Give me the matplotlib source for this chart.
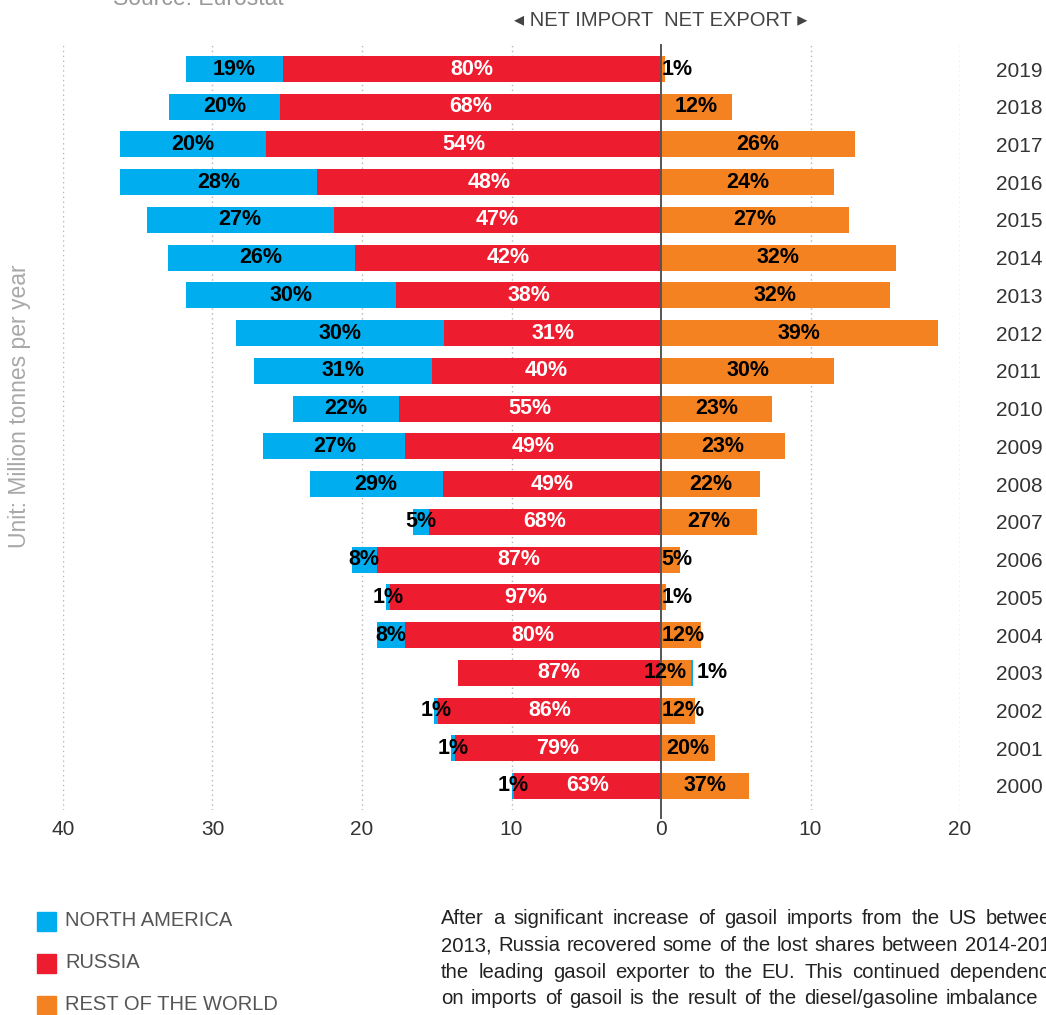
import numpy as np
import matplotlib
matplotlib.use("Agg")
import matplotlib.pyplot as plt
from matplotlib.patches import Rectangle

plt.rcParams['font.family'] = ['Liberation Sans', 'DejaVu Sans']

# Net trade in gasoil, million tonnes per year (negative = net import)
years = list(range(2000, 2020))
russia = [-9.83, -13.8, -14.9, -13.6, -17.1, -18.1, -19.0, -15.5, -14.6, -17.1,
          -17.5, -15.3, -14.5, -17.7, -20.5, -21.9, -23.0, -26.4, -25.5, -25.3]
north_america = [-0.17, -0.25, -0.3, 0.15, -1.9, -0.3, -1.7, -1.1, -8.9, -9.5,
                 -7.1, -11.9, -13.9, -14.1, -12.5, -12.5, -13.2, -9.8, -7.4, -6.5]
rest_world = [5.9, 3.6, 2.27, 2.0, 2.7, 0.33, 1.27, 6.4, 6.6, 8.3,
              7.4, 11.6, 18.5, 15.3, 15.7, 12.6, 11.6, 13.0, 4.75, 0.3]

na_pct = ['1%', '1%', '1%', '1%', '8%', '1%', '8%', '5%', '29%', '27%',
          '22%', '31%', '30%', '30%', '26%', '27%', '28%', '20%', '20%', '19%']
ru_pct = ['63%', '79%', '86%', '87%', '80%', '97%', '87%', '68%', '49%', '49%',
          '55%', '40%', '31%', '38%', '42%', '47%', '48%', '54%', '68%', '80%']
row_pct = ['37%', '20%', '12%', '12%', '12%', '1%', '5%', '27%', '22%', '23%',
           '23%', '30%', '39%', '32%', '32%', '27%', '24%', '26%', '12%', '1%']

series_names = ['NORTH AMERICA', 'RUSSIA', 'REST OF THE WORLD']
colors = ['#00AEEF', '#EE1C2F', '#F58220']

para_lines = [
    "After a significant increase of gasoil imports from the US between",
    "2013, Russia recovered some of the lost shares between 2014-2019",
    "the leading gasoil exporter to the EU. This continued dependence",
    "on imports of gasoil is the result of the diesel/gasoline imbalance",
]
para_right = [1062, 1062, 1060, 1038]

W, H = 1046, 1015
fig = plt.figure(figsize=(W / 100, H / 100), dpi=100)
ax = fig.add_axes([63 / W, 1 - 810 / H, 897 / W, 765 / H])

y = np.arange(len(years))
ru = np.array(russia)
na = np.array(north_america)
rw = np.array(rest_world)
bh = 0.69

ax.barh(y, ru, left=0, height=bh, color=colors[1], zorder=2)
na_left = np.where(na < 0, ru, rw)
ax.barh(y, na, left=na_left, height=bh, color=colors[0], zorder=2)
ax.barh(y, rw, left=0, height=bh, color=colors[2], zorder=2)

lab = dict(fontsize=15.5, fontweight='bold', va='center', zorder=4)
for i in range(len(years)):
    # Russia
    ax.text(ru[i] / 2, y[i], ru_pct[i], ha='center', color='white', **lab)
    # North America
    if na[i] < 0:
        ax.text(ru[i] + na[i] / 2, y[i], na_pct[i], ha='center', color='black', **lab)
    else:
        ax.text(rw[i] + na[i] + 0.25, y[i], na_pct[i], ha='left', color='black', **lab)
    # Rest of the world
    if rw[i] >= 3.0:
        ax.text(rw[i] / 2, y[i], row_pct[i], ha='center', color='black', **lab)
    elif na[i] > 0:
        ax.text(rw[i] - 0.25, y[i], row_pct[i], ha='right', color='black', **lab)
    else:
        ax.text(0.05, y[i], row_pct[i], ha='left', color='black', **lab)

for gx in [-40, -30, -20, -10, 10, 20]:
    ax.axvline(gx, color='#b5b5b5', lw=1, ls=(0, (1, 2.5)), zorder=1)
ax.axvline(0, color='#555555', lw=1.4, zorder=3, ymin=-0.01, clip_on=False)

ax.set_xlim(-40, 20)
ax.set_ylim(-0.636, len(years) - 1 + 0.636)
ax.set_xticks([-40, -30, -20, -10, 0, 10, 20])
ax.set_xticklabels([str(abs(v)) for v in [-40, -30, -20, -10, 0, 10, 20]])
ax.set_yticks(y)
ax.set_yticklabels([str(v) for v in years])
ax.yaxis.tick_right()
ax.tick_params(axis='x', length=0, pad=7, labelsize=15, labelcolor='#333333')
ax.tick_params(axis='y', length=0, pad=26, labelsize=15, labelcolor='#333333')
for s in ax.spines.values():
    s.set_visible(False)

fig.text(661 / W, 1 - 20 / H, '\u25C2 NET IMPORT  NET EXPORT \u25B8', ha='center',
         va='center', fontsize=14.5, color='#444444',
         family=['Liberation Sans', 'DejaVu Sans'])
fig.text(113 / W, 1 - 5 / H, 'Source: Eurostat', ha='left', va='baseline',
         fontsize=16.5, color='#999999')
fig.text(20 / W, 1 - 406 / H, 'Unit: Million tonnes per year', rotation=90,
         ha='center', va='center', fontsize=16.5, color='#a8a8a8')

# legend
for k, (name, c) in enumerate(zip(series_names, colors)):
    cy = [921, 963, 1005][k]
    fig.patches.append(Rectangle((37 / W, 1 - (cy + 9.5) / H), 19 / W, 19 / H,
                                 transform=fig.transFigure, color=c, figure=fig))
    fig.text(65 / W, 1 - cy / H, name, ha='left', va='center', fontsize=14.5,
             color='#555555')

# justified paragraph, cut by the right edge
renderer = fig.canvas.get_renderer()
for i, (line, right) in enumerate(zip(para_lines, para_right)):
    words = line.split()
    yy = 1 - (919 + i * 26.5) / H
    objs = [fig.text(0, yy, w, fontsize=14.6, va='center', color='#222222') for w in words]
    widths = [o.get_window_extent(renderer).width for o in objs]
    gap = (right - 441 - sum(widths)) / (len(words) - 1)
    x = 441
    for o, w in zip(objs, widths):
        o.set_x(x / W)
        x += w + gap

fig.savefig('out.png', dpi=100)
